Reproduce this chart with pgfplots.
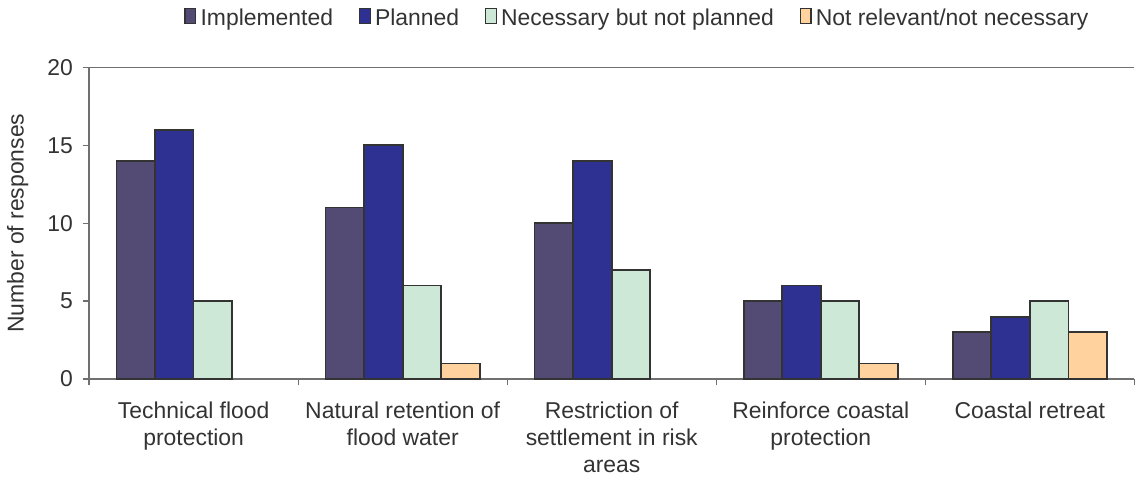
\documentclass[border=0pt]{standalone}
\usepackage{pgfplots}
\pgfplotsset{compat=1.18}
\usepackage{fontspec}
\setmainfont{Liberation Sans}
\definecolor{cImp}{HTML}{534B74}
\definecolor{cPlan}{HTML}{2E3191}
\definecolor{cNec}{HTML}{CDE8D6}
\definecolor{cNot}{HTML}{FFD29E}
\definecolor{txt}{HTML}{333333}
\definecolor{axc}{HTML}{707070}
\begin{document}
\begin{tikzpicture}
\begin{axis}[
  scale only axis,
  width=488pt, height=145.5pt,
  ybar=0pt, bar width=18pt,
  xmin=-0.5, xmax=4.5, ymin=0, ymax=20,
  axis x line*=bottom, axis y line*=left,
  axis line style={axc, line width=0.6pt},
  ytick={0,5,10,15,20},
  extra y ticks={20}, extra y tick labels={},
  extra y tick style={grid=major, major grid style={axc, line width=0.6pt}, major tick length=0pt},
  xtick={-0.5,0.5,1.5,2.5,3.5,4.5},
  x tick label as interval,
  xticklabels={Technical flood\\protection, Natural retention of\\flood water, Restriction of\\settlement in risk\\areas, Reinforce coastal\\protection, Coastal retreat},
  x tick label style={align=center, font=\fontsize{10.7}{12.6}\selectfont, text=txt, inner ysep=2pt, yshift=-5.5pt},
  tick align=outside,
  major tick length=3pt,
  tick style={axc, line width=0.6pt},
  /pgf/number format/assume math mode=true,
  y tick label style={font=\fontsize{10.7}{12}\selectfont, text=txt, xshift=-1pt},
  ylabel={Number of responses},
  ylabel style={font=\fontsize{10.7}{12}\selectfont, text=txt, yshift=-1pt},
  legend style={at={(0.5,1.0)}, xshift=12.5pt, yshift=14pt, anchor=south, draw=none, fill=none,
    font=\fontsize{10.7}{12}\selectfont, text=txt, legend columns=4,
    /tikz/every even column/.append style={column sep=10pt}},
  legend image code/.code={\draw[#1, draw=txt, line width=0.6pt] (0pt,-2.5pt) rectangle (5pt,4.5pt);},
  every axis plot/.append style={draw=txt, line width=0.8pt},
]
\addplot[fill=cImp] coordinates {(0,14) (1,11) (2,10) (3,5) (4,3)};
\addplot[fill=cPlan] coordinates {(0,16) (1,15) (2,14) (3,6) (4,4)};
\addplot[fill=cNec] coordinates {(0,5) (1,6) (2,7) (3,5) (4,5)};
\addplot[fill=cNot] coordinates {(1,1) (3,1) (4,3)};
\legend{Implemented, Planned, Necessary but not planned, Not relevant/not necessary}
\end{axis}
\end{tikzpicture}
\end{document}
